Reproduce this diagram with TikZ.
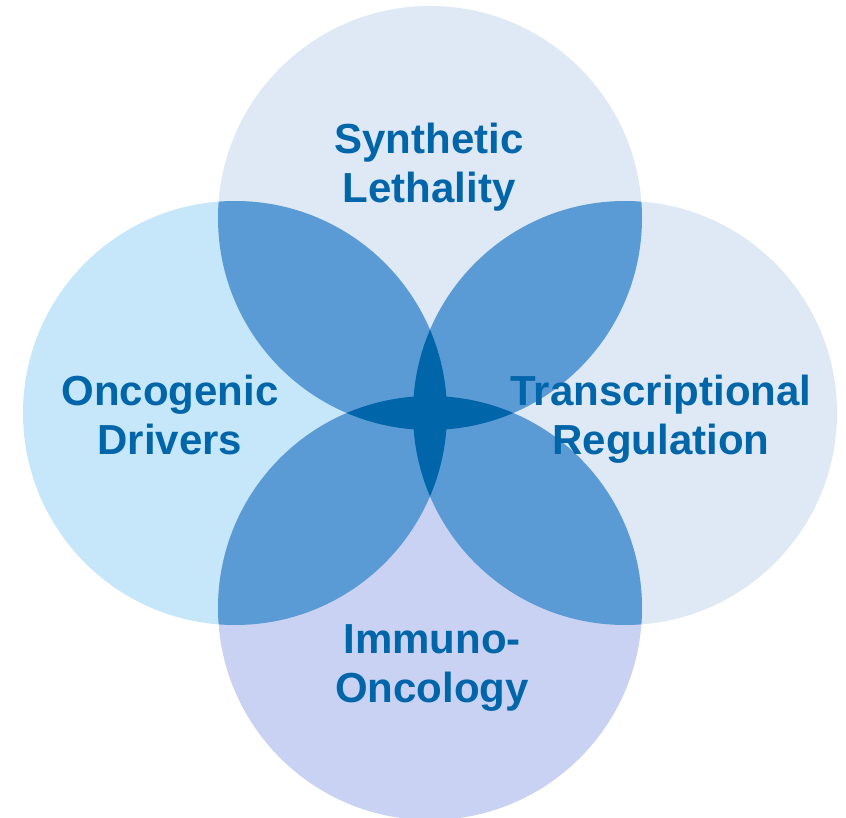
\documentclass[tikz,border=0pt]{standalone}
\usepackage{fontspec}
\setmainfont{Liberation Sans}

\definecolor{paleblue}{HTML}{DEE9F5}
\definecolor{skyblue}{HTML}{C6E7FA}
\definecolor{lilacblue}{HTML}{C9D2F2}
\definecolor{midblue}{HTML}{5B9BD5}
\definecolor{deepblue}{HTML}{0065A9}

\tikzset{
    area/.style={align=center, text=deepblue, font=\bfseries\fontsize{42}{49}\selectfont}
}

\begin{document}
\begin{tikzpicture}[x=1pt, y=-1pt]
        \useasboundingbox (0,0) rectangle (846,818);

        \coordinate (top) at (430,218);
        \coordinate (left) at (235,413);
        \coordinate (right) at (625,413);
        \coordinate (bottom) at (430,608);

        % the four circles
        \fill[paleblue] (top) circle (212pt);
        \fill[skyblue] (left) circle (212pt);
        \fill[paleblue] (right) circle (212pt);
        \fill[lilacblue] (bottom) circle (212pt);

        % overlaps of neighbouring circles
        \begin{scope}
            \clip (top) circle (212pt);
            \fill[midblue] (left) circle (212pt);
            \fill[midblue] (right) circle (212pt);
        \end{scope}
        \begin{scope}
            \clip (bottom) circle (212pt);
            \fill[midblue] (left) circle (212pt);
            \fill[midblue] (right) circle (212pt);
        \end{scope}

        % centre star
        \begin{scope}
            \clip (left) circle (212pt);
            \fill[deepblue] (right) circle (212pt);
        \end{scope}
        \begin{scope}
            \clip (top) circle (212pt);
            \fill[deepblue] (bottom) circle (212pt);
        \end{scope}

        \node[area] (synthetic) at (429,167) {Synthetic\\Lethality};
        \node[area] (oncogenic) at (170,415) {Oncogenic\\Drivers};
        \node[area] (transcription) at (661,419) {Transcriptional\\Regulation};
        \node[area] (immuno) at (432,668) {Immuno-\\Oncology};
    \end{tikzpicture}
\end{document}
